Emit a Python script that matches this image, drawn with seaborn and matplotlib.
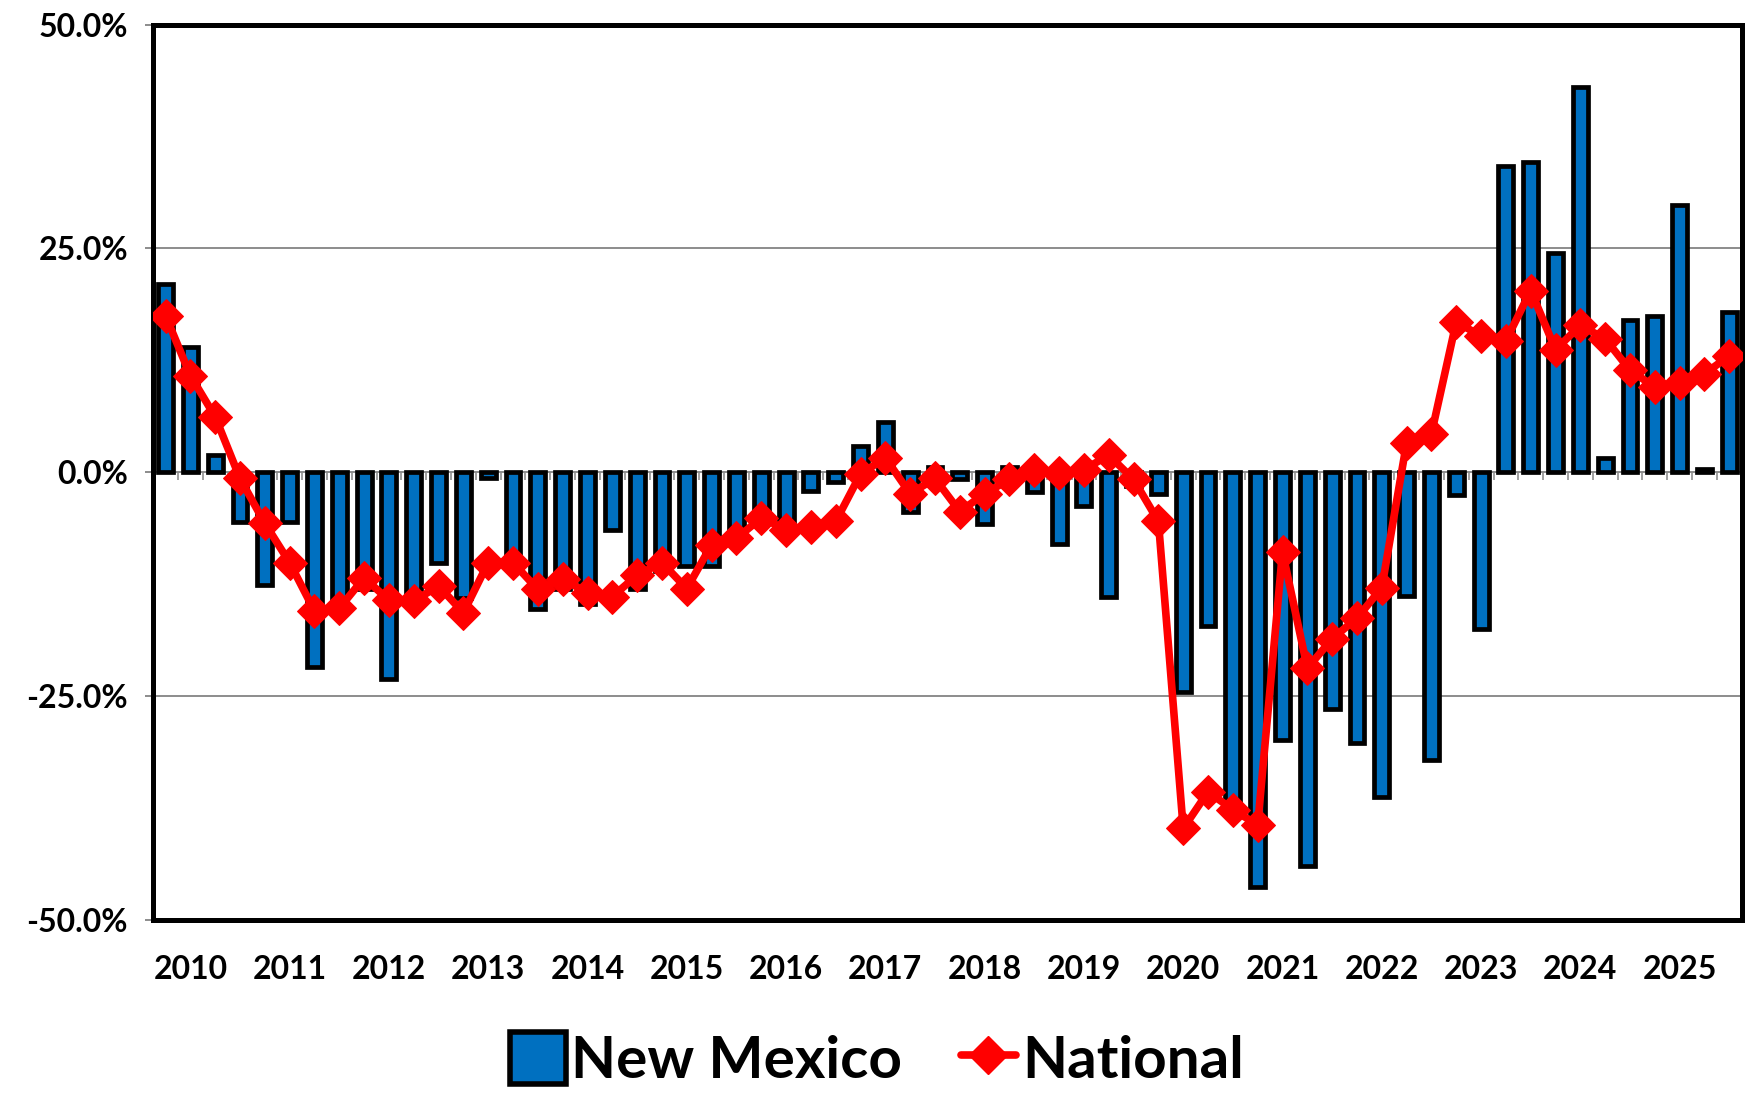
import numpy as np
import pandas as pd
import matplotlib
matplotlib.use('Agg')
import matplotlib.pyplot as plt
import matplotlib.patches as patches
from matplotlib.lines import Line2D
from matplotlib.ticker import FuncFormatter
import seaborn as sns

years = [str(y) for y in range(2010, 2026)]
quarters = [f"{y}Q{q}" for y in years for q in range(1, 5)]

# year-over-year % change, quarterly, 2010Q1 - 2025Q4
new_mexico = [21.0, 14.0, 1.9, -5.6, -12.6, -5.6, -21.8, -14.5,
              -13.0, -23.1, -14.5, -10.1, -14.0, -0.7, -10.5, -15.3,
              -13.0, -14.7, -6.4, -13.1, -11.0, -10.5, -10.5, -7.5,
              -5.5, -6.0, -2.1, -1.1, 2.9, 5.6, -4.4, 0.6,
              -0.8, -5.8, 0.6, -2.2, -8.0, -3.8, -13.9, -1.5,
              -2.4, -24.5, -17.2, -38.0, -46.3, -29.9, -44.0, -26.5,
              -30.2, -36.3, -13.8, -32.2, -2.6, -17.5, 34.2, 34.7,
              24.5, 43.0, 1.6, 17.0, 17.5, 29.9, 0.4, 17.9]
national = [17.5, 10.8, 6.2, -0.7, -5.7, -10.1, -15.5, -15.2,
            -11.8, -14.3, -14.4, -12.7, -15.7, -10.1, -10.1, -13.1,
            -11.9, -13.5, -13.9, -11.5, -10.1, -13.0, -8.1, -7.4,
            -5.1, -6.4, -6.1, -5.5, -0.2, 1.6, -2.4, -0.7,
            -4.4, -2.4, -0.8, 0.2, -0.1, 0.3, 1.9, -0.8,
            -5.5, -39.8, -35.7, -37.7, -39.4, -8.9, -21.9, -18.6,
            -16.3, -12.9, 3.3, 4.3, 16.8, 15.2, 14.7, 20.3,
            13.7, 16.4, 14.9, 11.4, 9.5, 10.0, 11.0, 13.0]
y_ticks = [-50, -25, 0, 25, 50]

df = pd.DataFrame({'quarter': quarters, 'pos': range(len(quarters)),
                   'New Mexico': new_mexico, 'National': national})

sns.set_theme(style='white')
plt.rcParams['font.family'] = ['Lato', 'DejaVu Sans']
plt.rcParams['font.weight'] = 'bold'
plt.rcParams['text.color'] = 'black'
plt.rcParams['xtick.labelcolor'] = 'black'
plt.rcParams['ytick.labelcolor'] = 'black'

blue = '#0070C0'
fig = plt.figure(figsize=(17.54, 10.95), dpi=100)
ax = fig.add_axes([0.0873, 0.160, 0.9057, 0.8175])

sns.barplot(data=df, x='pos', y='New Mexico', color=blue, saturation=1,
            width=0.6, edgecolor='black', linewidth=3.4, ax=ax, zorder=2)
sns.lineplot(data=df, x='pos', y='National', color='red', linewidth=5.5,
             marker='D', markersize=17, markeredgecolor='red', ax=ax, zorder=3)

ax.set_xlim(-0.5, len(quarters) - 0.5)
ax.set_ylim(-50, 50)
ax.set_yticks(y_ticks)
ax.yaxis.set_major_formatter(FuncFormatter(lambda v, p: f"{v:.1f}%"))
ax.yaxis.grid(True, color='#8c8c8c', linewidth=1.4, zorder=0)
ax.set_axisbelow(True)
ax.set_xticks(np.arange(1, len(quarters), 4))
ax.set_xticklabels(years)
ax.set_xlabel('')
ax.set_ylabel('')
ax.tick_params(axis='x', length=0, pad=25, labelsize=23, labelcolor='black')
ax.tick_params(axis='y', length=6, width=1.4, color='#8c8c8c', direction='out',
               left=True, pad=12, labelsize=23, labelcolor='black')
for s in ax.spines.values():
    s.set_color('black')
    s.set_linewidth(3.6)

# category tick marks along the zero line
sec = ax.secondary_xaxis(0.5)
sec.set_alignment('bottom')
sec.set_xticks(np.arange(-0.5, len(quarters), 1))
sec.tick_params(direction='out', length=6, width=1.4, color='#a0a0a0', labelbottom=False)
for s in sec.spines.values():
    s.set_visible(False)

handles = [patches.Patch(facecolor=blue, edgecolor='black', linewidth=4, label='New Mexico'),
           Line2D([0], [0], color='red', lw=5.5, marker='D', ms=19, label='National')]
leg = fig.legend(handles=handles, loc='center', bbox_to_anchor=(0.5, 1 - 1060 / 1095), ncol=2,
                 frameon=False, fontsize=42, handlelength=0.95, handleheight=1.0,
                 handletextpad=0.1, columnspacing=1.0)
for t in leg.get_texts():
    t.set_color('black')

fig.savefig('out.png', dpi=100)
